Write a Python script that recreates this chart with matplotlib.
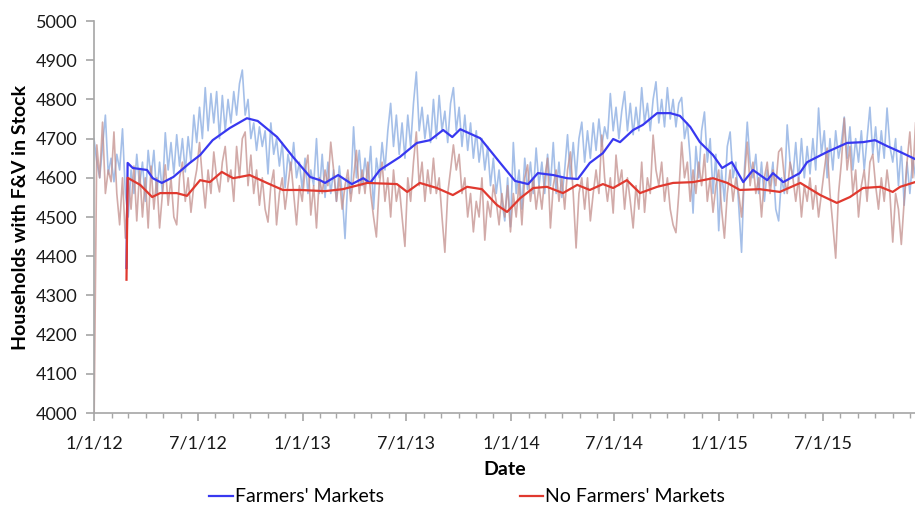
import matplotlib
matplotlib.use("Agg")
import matplotlib.pyplot as plt
import matplotlib.dates as mdates
import pandas as pd

plt.rcParams["font.family"] = ["Lato", "DejaVu Sans"]

start = pd.Timestamp("2012-01-01")

# raw daily-ish counts, one value every 5 days from 1/1/12
fm_raw = [
    4700, 4640, 4600, 4680, 4760, 4610, 4650, 4590, 4660, 4620, 4725, 4560,
    4500, 4620, 4560, 4660, 4580, 4640, 4540, 4670, 4600, 4670, 4555, 4640,
    4560, 4715, 4620, 4690, 4610, 4710, 4630, 4700, 4615, 4705, 4640, 4760,
    4690, 4780, 4700, 4830, 4720, 4815, 4740, 4820, 4700, 4810, 4720, 4800,
    4740, 4820, 4760, 4840, 4875, 4760, 4800, 4700, 4740, 4670, 4730, 4680,
    4720, 4610, 4740, 4660, 4700, 4630, 4690, 4575, 4660, 4620, 4690, 4600,
    4640, 4570, 4650, 4560, 4620, 4580, 4700, 4560, 4660, 4550, 4640, 4560,
    4620, 4540, 4630, 4560, 4445, 4600, 4560, 4730, 4600, 4670, 4580, 4650,
    4590, 4680, 4520, 4650, 4600, 4690, 4620, 4720, 4790, 4680, 4760, 4660,
    4740, 4650, 4760, 4680, 4790, 4870, 4720, 4780, 4700, 4760, 4690, 4800,
    4700, 4810, 4720, 4770, 4690, 4790, 4830, 4720, 4780, 4680, 4760, 4670,
    4740, 4650, 4720, 4640, 4700, 4620, 4680, 4580, 4650, 4560, 4620, 4540,
    4490, 4600, 4475, 4690, 4560, 4620, 4520, 4650, 4570, 4640, 4560, 4676,
    4580, 4640, 4560, 4660, 4580, 4690, 4560, 4640, 4550, 4620, 4710, 4600,
    4690, 4600, 4700, 4742, 4640, 4720, 4650, 4740, 4670, 4750, 4680, 4730,
    4700, 4815, 4720, 4780, 4700, 4770, 4820, 4720, 4790, 4710, 4780, 4720,
    4830, 4740, 4790, 4720, 4800, 4845, 4740, 4800, 4730, 4830, 4750, 4800,
    4730, 4790, 4805, 4700, 4740, 4650, 4510, 4680, 4600, 4720, 4768, 4640,
    4700, 4560, 4660, 4465, 4620, 4540, 4680, 4717, 4600, 4640, 4530, 4410,
    4620, 4742, 4640, 4600, 4660, 4560, 4640, 4540, 4620, 4580, 4640, 4520,
    4490, 4600, 4560, 4735, 4640, 4600, 4690, 4590, 4700, 4600, 4680, 4610,
    4700, 4620, 4778, 4660, 4720, 4600, 4700, 4620, 4720, 4650, 4690, 4755,
    4650, 4730, 4620, 4700, 4640, 4720, 4620, 4700, 4780, 4660, 4730, 4640,
    4720, 4650, 4778, 4680, 4640, 4700, 4580, 4680, 4530, 4640, 4560, 4650,
    4600,
]

nfm_raw = [
    3950, 4684, 4600, 4742, 4560, 4620, 4590, 4717, 4560, 4480, 4600, 4446,
    4600, 4520, 4630, 4490, 4620, 4500, 4600, 4472, 4630, 4520, 4600, 4472,
    4560, 4633, 4530, 4600, 4500, 4480, 4600, 4640, 4540, 4600, 4512, 4580,
    4620, 4690, 4600, 4523, 4620, 4560, 4666, 4600, 4564, 4640, 4680, 4590,
    4620, 4540, 4680, 4600, 4700, 4717, 4580, 4658, 4560, 4620, 4530, 4600,
    4520, 4487, 4580, 4620, 4480, 4560, 4600, 4520, 4580, 4640, 4560, 4480,
    4580, 4540, 4620, 4658, 4505, 4580, 4472, 4600, 4560, 4620, 4580, 4691,
    4620, 4540, 4600, 4520, 4580, 4620, 4540, 4600, 4670, 4560, 4620, 4560,
    4640, 4560, 4500, 4449, 4580, 4640, 4540, 4600, 4500, 4620, 4540, 4580,
    4500, 4425, 4600, 4540, 4640, 4717, 4580, 4640, 4540, 4620, 4560, 4650,
    4560, 4600, 4500, 4410, 4560, 4620, 4684, 4620, 4660, 4560, 4600, 4500,
    4560, 4462, 4540, 4500, 4600, 4441, 4540, 4500, 4582, 4540, 4480, 4560,
    4500, 4580, 4462, 4560, 4500, 4589, 4480, 4600, 4633, 4540, 4600, 4520,
    4580, 4520, 4600, 4650, 4472, 4580, 4620, 4540, 4600, 4520, 4620, 4666,
    4560, 4421, 4560, 4600, 4520, 4600, 4490, 4560, 4620, 4560, 4709, 4600,
    4540, 4600, 4510, 4658, 4580, 4620, 4520, 4600, 4540, 4472, 4580, 4520,
    4640, 4512, 4600, 4560, 4709, 4620, 4580, 4640, 4540, 4600, 4520, 4480,
    4460, 4560, 4691, 4600, 4640, 4540, 4620, 4560, 4640, 4580, 4660, 4540,
    4600, 4512, 4580, 4620, 4520, 4446, 4560, 4620, 4540, 4600, 4560, 4500,
    4600, 4691, 4580, 4640, 4560, 4600, 4500, 4600, 4640, 4560, 4620, 4580,
    4666, 4676, 4600, 4560, 4640, 4600, 4540, 4600, 4500, 4580, 4540, 4600,
    4520, 4580, 4500, 4560, 4620, 4676, 4560, 4480, 4395, 4560, 4640, 4752,
    4620, 4680, 4560, 4620, 4500, 4580, 4620, 4540, 4640, 4660, 4580, 4520,
    4600, 4540, 4620, 4560, 4436, 4560, 4520, 4430, 4540, 4640, 4717, 4600,
    4740,
]

# moving averages: day offset from 1/1/12 and value
fm_ma_days = [57, 59, 68, 93, 103, 119, 139, 168, 186, 208, 238, 268, 287, 321,
              349, 379, 396, 405, 428, 452, 472, 484, 501, 536, 566, 589, 612,
              628, 642, 677, 712, 738, 761, 778, 805, 829, 848, 869, 892, 910,
              922, 945, 962, 987, 1010, 1027, 1045, 1062, 1085, 1101, 1118,
              1138, 1155, 1180, 1190, 1208, 1237, 1250, 1285, 1320, 1348, 1369,
              1390, 1413, 1439]
fm_ma = [4370, 4638, 4625, 4620, 4599, 4587, 4602, 4638, 4658, 4696, 4727,
         4752, 4745, 4704, 4653, 4602, 4594, 4587, 4607, 4584, 4599, 4587,
         4620, 4653, 4689, 4696, 4722, 4704, 4724, 4701, 4638, 4592, 4584,
         4612, 4607, 4599, 4597, 4638, 4663, 4699, 4691, 4722, 4735, 4765,
         4765, 4758, 4730, 4691, 4658, 4625, 4640, 4589, 4620, 4594, 4612,
         4589, 4612, 4640, 4666, 4689, 4691, 4696, 4681, 4666, 4648]

nfm_ma_days = [57, 59, 81, 102, 116, 145, 163, 186, 203, 224, 244, 273, 303,
               331, 361, 405, 436, 479, 531, 549, 571, 601, 629, 654, 680, 706,
               724, 747, 770, 794, 822, 847, 869, 892, 910, 934, 957, 987,
               1015, 1050, 1085, 1110, 1132, 1167, 1202, 1238, 1273, 1302,
               1325, 1348, 1378, 1400, 1413, 1439]
nfm_ma = [4340, 4600, 4582, 4551, 4561, 4561, 4554, 4594, 4589, 4615, 4599,
          4607, 4587, 4569, 4569, 4566, 4571, 4587, 4584, 4564, 4587, 4574,
          4556, 4577, 4571, 4531, 4513, 4548, 4574, 4577, 4561, 4582, 4569,
          4584, 4574, 4594, 4561, 4577, 4587, 4589, 4599, 4587, 4569, 4571,
          4564, 4587, 4556, 4536, 4551, 4574, 4577, 4564, 4577, 4589]

raw_dates = pd.date_range(start, periods=len(fm_raw), freq="5D")
fm_ma_dates = start + pd.to_timedelta(fm_ma_days, unit="D")
nfm_ma_dates = start + pd.to_timedelta(nfm_ma_days, unit="D")

fig = plt.figure(figsize=(9.15, 5.09), dpi=100)
ax = fig.add_axes([0.1027, 0.1886, 0.8973, 0.7701])

ax.plot(raw_dates, fm_raw, color="#8fb0e3", lw=1.2, alpha=0.8)
ax.plot(raw_dates, nfm_raw, color="#c38f8c", lw=1.2, alpha=0.75)
ax.plot(fm_ma_dates, fm_ma, color="#3838f0", lw=1.6, label="Farmers' Markets")
ax.plot(nfm_ma_dates, nfm_ma, color="#e0392f", lw=1.6, label="No Farmers' Markets")

ax.set_ylim(4000, 5000)
ax.set_xlim(start, start + pd.Timedelta(days=1439))
ax.set_yticks(range(4000, 5001, 100))

ax.xaxis.set_major_locator(mdates.MonthLocator(bymonth=[1, 7]))
ax.xaxis.set_minor_locator(mdates.MonthLocator())
ax.xaxis.set_major_formatter(
    plt.FuncFormatter(lambda v, _: (lambda d: f"{d.month}/{d.day}/{d.year % 100}")(mdates.num2date(v)))
)

for s in ["top", "right"]:
    ax.spines[s].set_visible(False)
for s in ["left", "bottom"]:
    ax.spines[s].set_color("#a6a6a6")
    ax.spines[s].set_linewidth(1.2)

ax.tick_params(axis="both", which="major", colors="#a6a6a6", labelcolor="#1a1a1a",
               labelsize=13, length=6, width=1.2, direction="out")
ax.tick_params(axis="x", which="minor", colors="#a6a6a6", length=3.5, width=1.0, direction="out")
ax.tick_params(axis="x", pad=10)
ax.tick_params(axis="y", pad=6)

ax.set_xlabel("Date", fontsize=14, fontweight="bold", labelpad=7)
ax.set_ylabel("Households with F&V in Stock", fontsize=14, fontweight="bold", labelpad=5)

fig.legend(loc="center", bbox_to_anchor=(0.5104, 0.0236), ncol=2, frameon=False,
           fontsize=14, handlelength=1.2, handletextpad=0.1, columnspacing=7.0)

fig.savefig("out.png", dpi=100)
